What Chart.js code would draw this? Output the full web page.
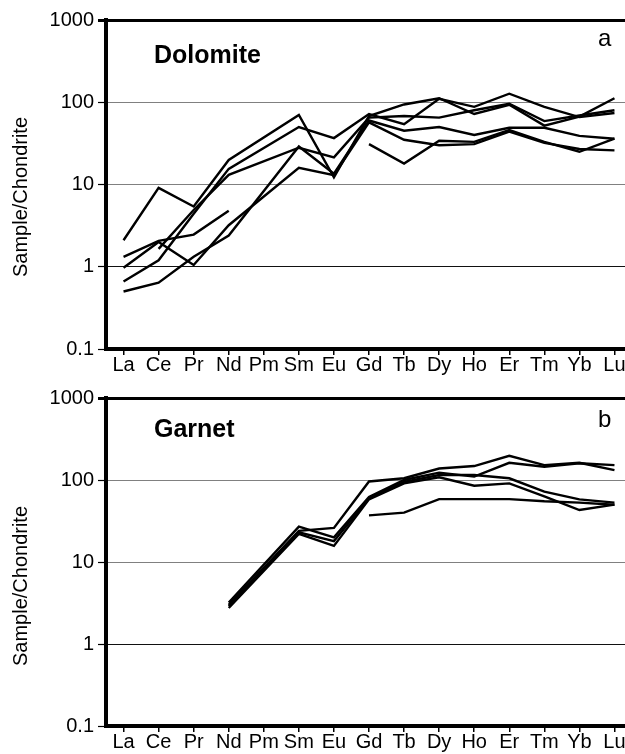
<!DOCTYPE html>
<html>
<head>
<meta charset="utf-8">
<script src="https://cdn.jsdelivr.net/npm/chart.js@4.4.1/dist/chart.umd.min.js"></script>
<style>
  html, body { margin: 0; padding: 0; background: #fff; overflow: hidden; }
  #wrap { width: 625px; height: 754px; overflow: hidden; position: relative; }
  canvas { position: absolute; left: 0; }
  #chartA { top: 0; }
  #chartB { top: 375px; }
</style>
</head>
<body>
<div id="wrap">
  <canvas id="chartA" width="632" height="375"></canvas>
  <canvas id="chartB" width="632" height="379"></canvas>
</div>
<script>
// REE, chondrite-normalised
const elements = ['La', 'Ce', 'Pr', 'Nd', 'Pm', 'Sm', 'Eu', 'Gd', 'Tb', 'Dy', 'Ho', 'Er', 'Tm', 'Yb', 'Lu'];
const yTicks = [0.1, 1, 10, 100, 1000];

// a: dolomite samples
const dol1 = [2.1, 9.1, 5.4, 19.9, null, 70, 12.2, 68, 94, 112, 72, 93, 52, 67, 112];
const dol2 = [1.32, 2.06, 2.46, 4.8, null, null, null, 31, 18, 34, 33, 46, 33, 25, 36];
const dol3 = [0.97, 2.0, 1.05, 3.2, null, 16, 13, 57, 35, 30, 31, 44, 32, 27, 26];
const dol4 = [0.66, 1.2, 4.4, 15.5, null, 50, 36.7, 72, 54, 110, 88, 127, 88, 66, 74];
const dol5 = [0.5, 0.64, 1.32, 2.4, null, 29, 13.5, 60, 45, 50, 40, 49, 49, 39, 36];
const dol6 = [null, 1.65, 4.9, 13.1, null, 28, 21.4, 65, 68, 65, 80, 96, 59, 69, 80];

// b: garnet samples
const grt1 = [null, null, null, 3.0, null, 24, 26, 96, 105, 138, 148, 197, 152, 162, 132];
const grt2 = [null, null, null, 3.2, null, 27, 20, 62, 100, 123, 110, 162, 145, 160, 152];
const grt3 = [null, null, null, 2.9, null, 23, 18, 60, 95, 115, 115, 105, 72, 58, 53];
const grt4 = [null, null, null, 2.75, null, 22, 15.7, 58, 91, 108, 85, 91, 63, 43, 50];
const grt5 = [null, null, null, null, null, null, null, 37, 40, 58.5, 58.5, 58.5, 55, 53, 50];

const FONT = "'Liberation Sans', Arial, Helvetica, sans-serif";
Chart.defaults.font.family = FONT;
Chart.defaults.color = '#000';

// panel name, letter and y title drawn on the canvas
const panelText = {
  id: 'panelText',
  afterDraw(chart, args, opts) {
    const ctx = chart.ctx;
    ctx.save();
    ctx.fillStyle = '#000';
    ctx.textBaseline = 'alphabetic';
    ctx.font = 'bold 25px ' + FONT;
    ctx.fillText(opts.name, 154, opts.nameY);
    ctx.font = '24px ' + FONT;
    ctx.fillText(opts.letter, 598, opts.letterY);
    ctx.translate(27, opts.titleY);
    ctx.rotate(-Math.PI / 2);
    ctx.font = '20px ' + FONT;
    ctx.textAlign = 'center';
    ctx.fillText('Sample/Chondrite', 0, 0);
    ctx.restore();
  }
};

const lineSet = (data, spanGaps = true) => ({
  data,
  borderColor: '#000',
  borderWidth: 2.4,
  pointRadius: 0,
  tension: 0,
  fill: false,
  spanGaps
});

function makeChart(id, datasets, padTop, xHeight, text) {
  return new Chart(document.getElementById(id), {
    type: 'line',
    data: { labels: elements, datasets },
    plugins: [panelText],
    options: {
      responsive: false,
      animation: false,
      layout: { padding: { top: padTop, left: 0, right: 0, bottom: 0 } },
      plugins: {
        legend: { display: false },
        tooltip: { enabled: false },
        panelText: text
      },
      scales: {
        x: {
          type: 'category',
          offset: true,
          afterFit: s => { s.height = xHeight; },
          ticks: { color: '#000', font: { size: 20, lineHeight: 1 }, padding: 0, autoSkip: false, maxRotation: 0, minRotation: 0 },
          grid: { drawOnChartArea: false, tickLength: 6, color: '#000', lineWidth: 1.5 },
          border: { color: '#000', width: 4 }
        },
        y: {
          type: 'logarithmic',
          min: 0.1,
          max: 1000,
          afterBuildTicks: s => { s.ticks = yTicks.map(v => ({ value: v })); },
          afterFit: s => { s.width = 106; },
          ticks: { color: '#000', font: { size: 20 }, padding: 4, callback: v => String(v) },
          grid: {
            color: c => c.tick && c.tick.value === 1000 ? '#000' : (c.tick && c.tick.value === 1 ? '#111' : '#808080'),
            lineWidth: c => c.tick && c.tick.value === 1000 ? 3 : 1,
            tickColor: '#000',
            tickWidth: c => c.tick && c.tick.value === 1000 ? 3 : 1.2,
            tickLength: 8
          },
          border: { color: '#000', width: 4 }
        }
      }
    }
  });
}

makeChart('chartA',
  [lineSet(dol1), lineSet(dol2, false), lineSet(dol3), lineSet(dol4), lineSet(dol5), lineSet(dol6)],
  20, 26,
  { name: 'Dolomite', nameY: 63, letter: 'a', letterY: 46, titleY: 197 });

makeChart('chartB',
  [lineSet(grt1), lineSet(grt2), lineSet(grt3), lineSet(grt4), lineSet(grt5)],
  23, 28,
  { name: 'Garnet', nameY: 62, letter: 'b', letterY: 52, titleY: 211 });
</script>
</body>
</html>
